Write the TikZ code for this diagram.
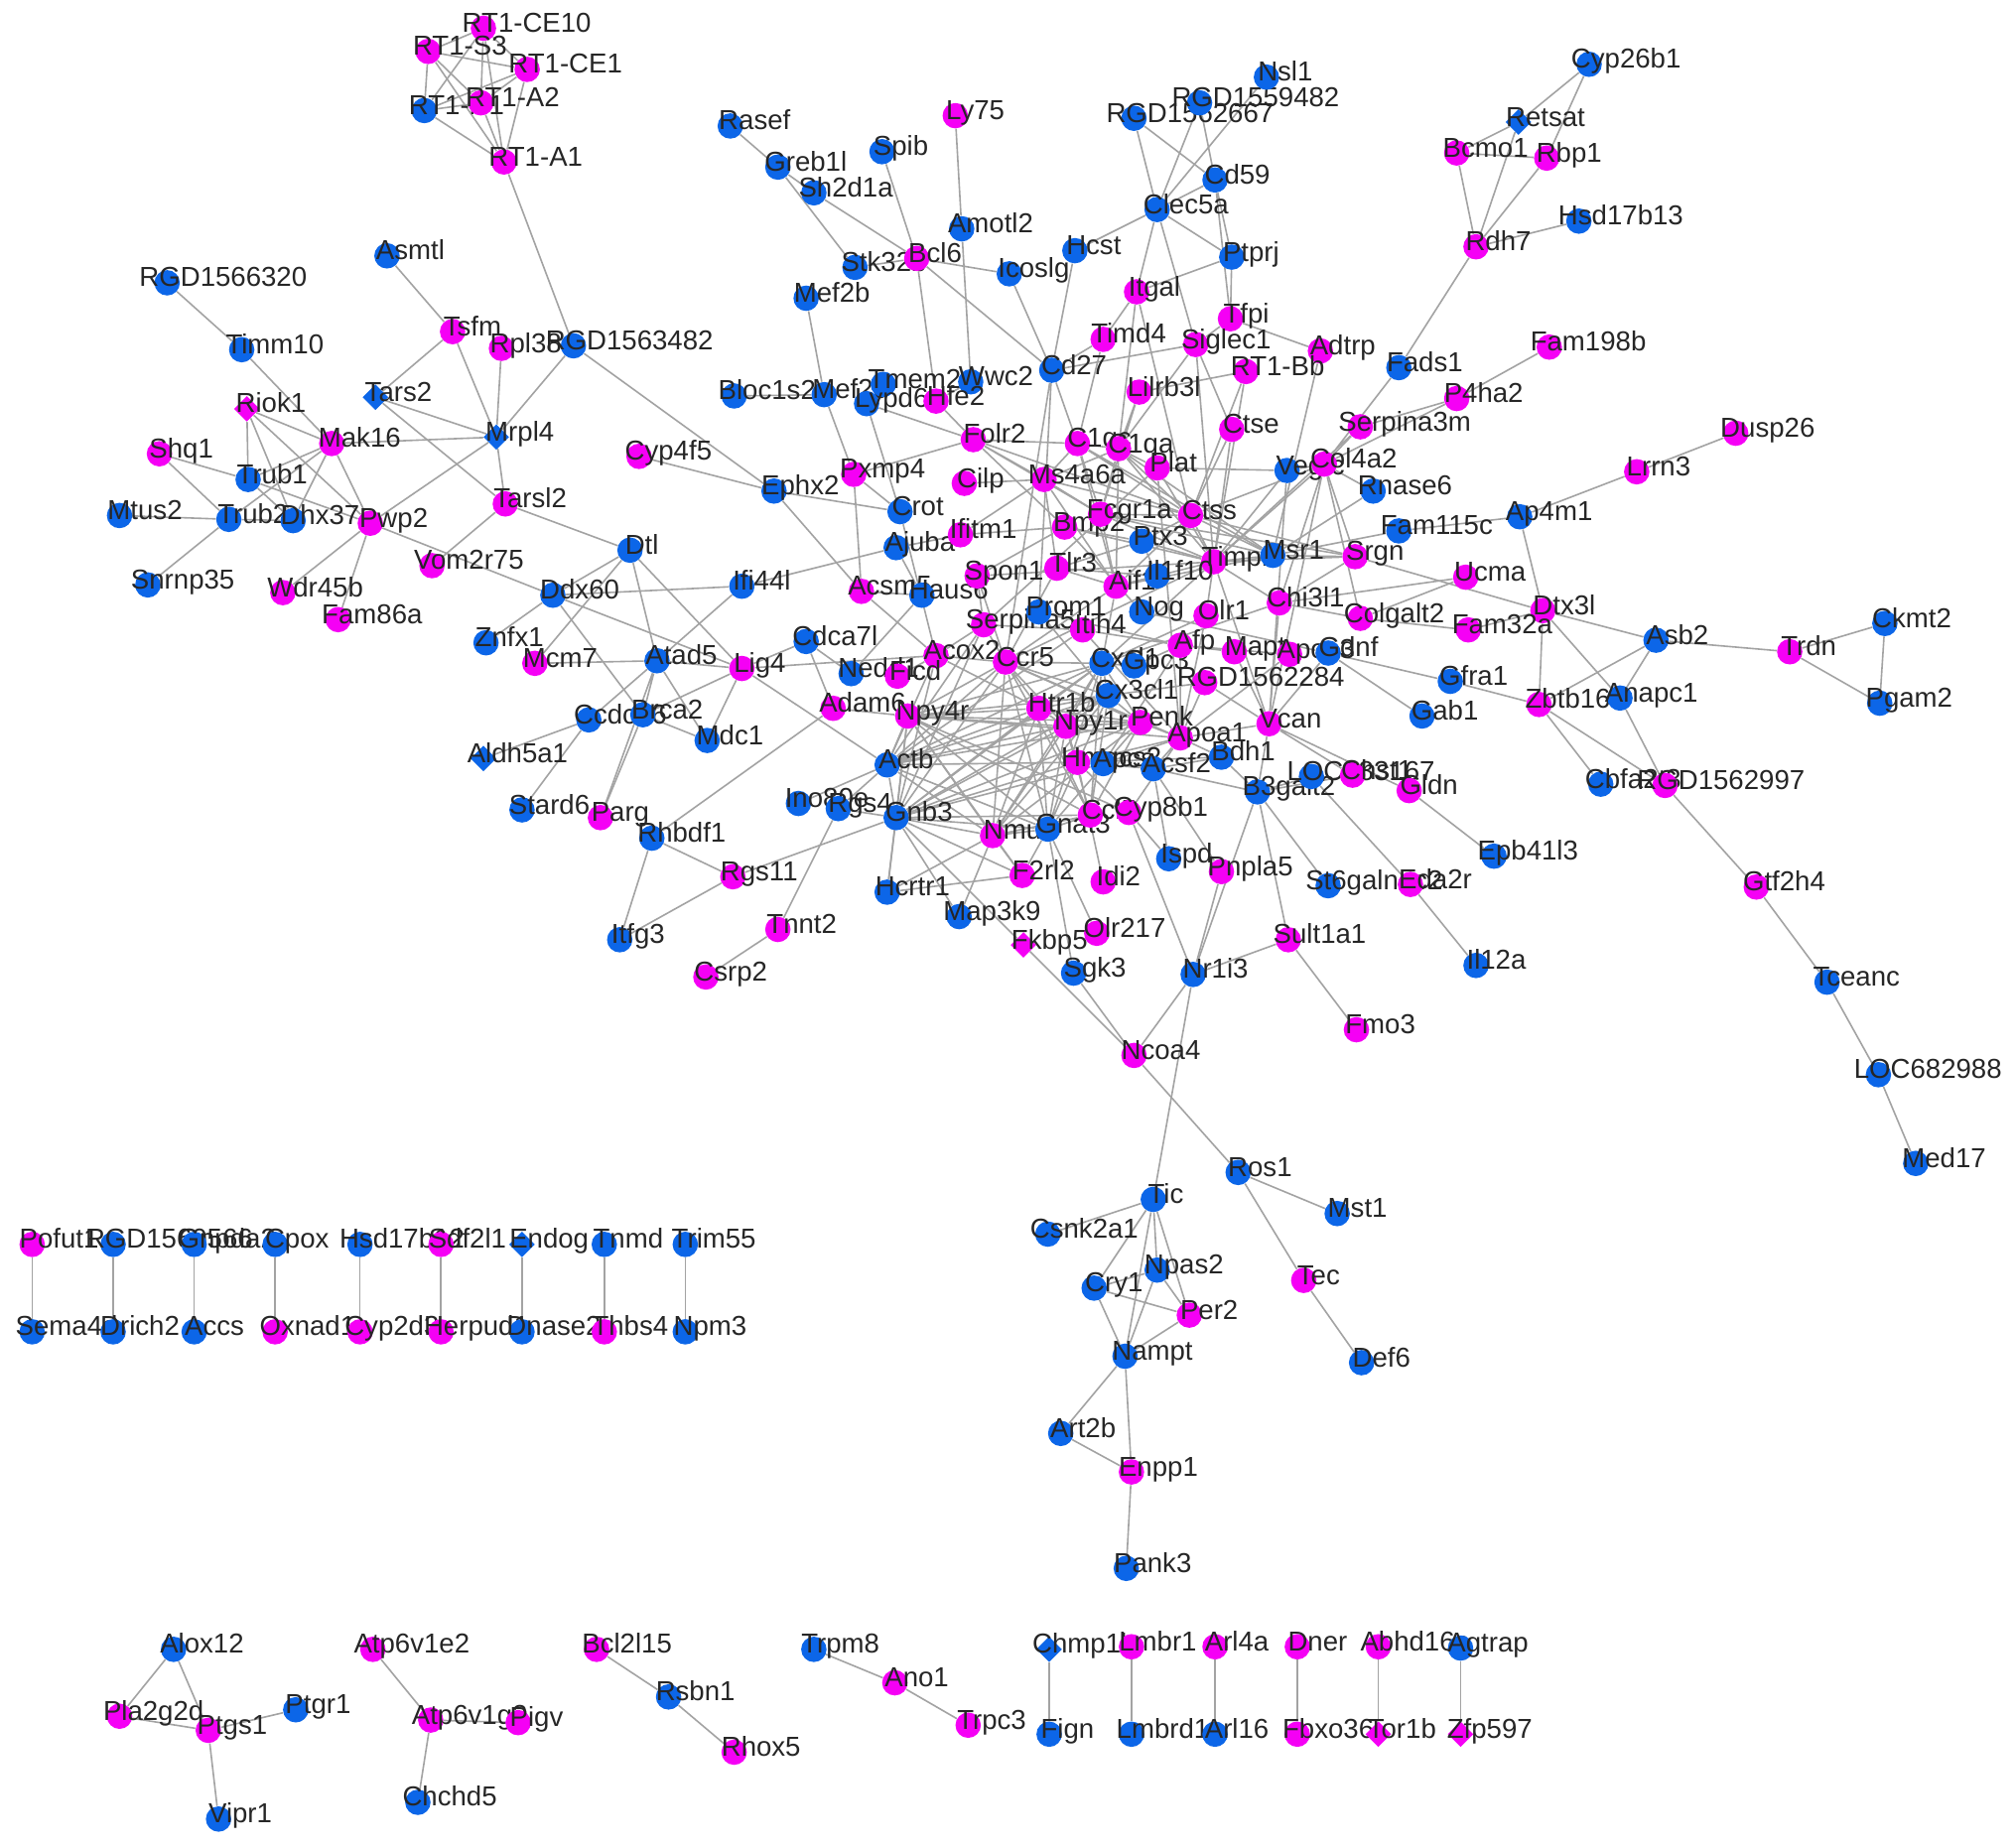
\documentclass[tikz,border=0pt]{standalone}
\usepackage{fontspec}
\setmainfont{Liberation Sans}
\usetikzlibrary{shapes.geometric}
\definecolor{geneblue}{RGB}{12,102,232}
\definecolor{genemag}{RGB}{245,0,245}
\pgfdeclarelayer{bg}
\pgfsetlayers{bg,main}
\tikzset{
  bn/.style={circle,fill=geneblue,inner sep=0pt,minimum size=12.8pt},
  mn/.style={circle,fill=genemag,inner sep=0pt,minimum size=12.8pt},
  bd/.style={diamond,fill=geneblue,inner sep=0pt,minimum size=13pt},
  md/.style={diamond,fill=genemag,inner sep=0pt,minimum size=13pt},
  lbl/.style={anchor=base west,yshift=-2pt,inner sep=0pt,
              font=\fontsize{13.8}{14}\selectfont,text=black!85},
  gene/.style={label={[lbl,xshift={-(6.4+0.235*width("#1"))*1pt}]right:#1}},
  edge/.style={draw=black!36,line width=0.8pt}
}

\begin{document}
\begin{tikzpicture}[x=0.6477pt,y=-0.6477pt]
\useasboundingbox (0,0) rectangle (1568,1437);
\begin{pgfonlayer}{bg}
\fill[white] (0,0) rectangle (1568,1437);
\end{pgfonlayer}

% RT1 cluster and upper left
\node[mn,gene=RT1-CE10] (RT1-CE10) at (376,22) {};
\node[mn,gene=RT1-S3] (RT1-S3) at (333,40) {};
\node[mn,gene=RT1-CE1] (RT1-CE1) at (410,54) {};
\node[bn,gene=RT1-N1] (RT1-N1) at (330,86) {};
\node[mn,gene=RT1-A2] (RT1-A2) at (374,80) {};
\node[mn,gene=RT1-A1] (RT1-A1) at (392,126) {};
\node[bn,gene=Asmtl] (Asmtl) at (301,199) {};
\node[bn,gene=RGD1566320] (RGD1566320) at (130,220) {};
\node[bn,gene=Timm10] (Timm10) at (188,272) {};
\node[mn,gene=Tsfm] (Tsfm) at (352,258) {};
\node[mn,gene=Rpl38] (Rpl38) at (390,271) {};
\node[bn,gene=RGD1563482] (RGD1563482) at (446,269) {};
\node[bd,gene=Tars2] (Tars2) at (292,309) {};
\node[md,gene=Riok1] (Riok1) at (192,318) {};
\node[mn,gene=Mak16] (Mak16) at (258,345) {};
\node[bd,gene=Mrpl4] (Mrpl4) at (386,340) {};
\node[mn,gene=Shq1] (Shq1) at (124,353) {};
\node[bn,gene=Trub1] (Trub1) at (193,373) {};
\node[bn,gene=Mtus2] (Mtus2) at (93,401) {};
\node[bn,gene=Trub2] (Trub2) at (178,404) {};
\node[bn,gene=Dhx37] (Dhx37) at (228,405) {};
\node[mn,gene=Pwp2] (Pwp2) at (288,407) {};
\node[mn,gene=Tarsl2] (Tarsl2) at (393,392) {};
\node[bn,gene=Snrnp35] (Snrnp35) at (115,455) {};
\node[mn,gene=Wdr45b] (Wdr45b) at (220,461) {};
\node[mn,gene=Fam86a] (Fam86a) at (263,482) {};
\node[mn,gene=Vom2r75] (Vom2r75) at (336,440) {};

% left middle
\node[bn,gene=Dtl] (Dtl) at (490,428) {};
\node[bn,gene=Ddx60] (Ddx60) at (430,463) {};
\node[bn,gene=Ifi44l] (Ifi44l) at (577,456) {};
\node[bn,gene=Znfx1] (Znfx1) at (378,500) {};
\node[mn,gene=Mcm7] (Mcm7) at (416,516) {};
\node[bn,gene=Atad5] (Atad5) at (511,514) {};
\node[mn,gene=Lig4] (Lig4) at (577,520) {};
\node[bn,gene=Cdca7l] (Cdca7l) at (627,499) {};
\node[bn,gene=Ccdc86] (Ccdc86) at (458,560) {};
\node[bn,gene=Brca2] (Brca2) at (500,556) {};
\node[bn,gene=Mdc1] (Mdc1) at (550,576) {};
\node[bd,gene=Aldh5a1] (Aldh5a1) at (376,590) {};
\node[bn,gene=Stard6] (Stard6) at (406,630) {};
\node[mn,gene=Parg] (Parg) at (467,636) {};
\node[bn,gene=Rhbdf1] (Rhbdf1) at (507,652) {};
\node[bn,gene=Itfg3] (Itfg3) at (482,731) {};
\node[mn,gene=Rgs11] (Rgs11) at (570,682) {};
\node[mn,gene=Tnnt2] (Tnnt2) at (605,723) {};
\node[mn,gene=Csrp2] (Csrp2) at (549,760) {};
\node[mn,gene=Cyp4f5] (Cyp4f5) at (497,355) {};
\node[bn,gene=Ephx2] (Ephx2) at (602,382) {};

% upper middle
\node[bn,gene=Rasef] (Rasef) at (568,98) {};
\node[bn,gene=Greb1l] (Greb1l) at (605,130) {};
\node[bn,gene=Spib] (Spib) at (686,118) {};
\node[bn,gene=Sh2d1a] (Sh2d1a) at (633,150) {};
\node[mn,gene=Ly75] (Ly75) at (743,90) {};
\node[bn,gene=Amotl2] (Amotl2) at (748,178) {};
\node[bn,gene=Stk32b] (Stk32b) at (665,208) {};
\node[mn,gene=Bcl6] (Bcl6) at (713,201) {};
\node[bn,gene=Mef2b] (Mef2b) at (627,232) {};
\node[bn,gene=Icoslg] (Icoslg) at (785,213) {};
\node[bn,gene=Hcst] (Hcst) at (836,195) {};
\node[bn,gene=RGD1562667] (RGD1562667) at (882,92) {};
\node[bn,gene=RGD1559482] (RGD1559482) at (933,80) {};
\node[bn,gene=Nsl1] (Nsl1) at (985,60) {};
\node[bn,gene=Cd59] (Cd59) at (945,140) {};
\node[bn,gene=Clec5a] (Clec5a) at (900,163) {};
\node[bn,gene=Ptprj] (Ptprj) at (958,200) {};
\node[mn,gene=Itgal] (Itgal) at (884,227) {};
\node[mn,gene=Tfpi] (Tfpi) at (957,248) {};
\node[mn,gene=Timd4] (Timd4) at (858,264) {};
\node[mn,gene=Siglec1] (Siglec1) at (930,268) {};
\node[mn,gene=Adtrp] (Adtrp) at (1027,273) {};
\node[mn,gene=RT1-Bb] (RT1-Bb) at (969,289) {};
\node[bn,gene=Cd27] (Cd27) at (818,288) {};
\node[mn,gene=Lilrb3l] (Lilrb3l) at (886,305) {};
\node[mn,gene=Ctse] (Ctse) at (958,334) {};
\node[bn,gene=Bloc1s2] (Bloc1s2) at (571,308) {};
\node[bn,gene=Mef2c] (Mef2c) at (641,307) {};
\node[bn,gene=Tmem2] (Tmem2) at (687,299) {};
\node[bn,gene=Wwc2] (Wwc2) at (755,297) {};
\node[bn,gene=Lypd6] (Lypd6) at (674,314) {};
\node[mn,gene=Hfe2] (Hfe2) at (728,312) {};
\node[mn,gene=Folr2] (Folr2) at (757,342) {};
\node[mn,gene=Pxmp4] (Pxmp4) at (664,369) {};
\node[mn,gene=Cilp] (Cilp) at (750,376) {};
\node[mn,gene=C1qc] (C1qc) at (838,345) {};
\node[mn,gene=C1qa] (C1qa) at (870,349) {};
\node[mn,gene=Ms4a6a] (Ms4a6a) at (812,373) {};
\node[mn,gene=Plat] (Plat) at (900,364) {};
\node[bn,gene=Crot] (Crot) at (700,398) {};
\node[bn,gene=Ajuba] (Ajuba) at (697,426) {};
\node[mn,gene=Ifitm1] (Ifitm1) at (747,416) {};
\node[mn,gene=Bmp2] (Bmp2) at (828,410) {};
\node[mn,gene=Fcgr1a] (Fcgr1a) at (856,400) {};
\node[mn,gene=Ctss] (Ctss) at (926,401) {};
\node[bn,gene=Ptx3] (Ptx3) at (888,421) {};
\node[mn,gene=Timp1] (Timp1) at (944,437) {};
\node[bn,gene=Msr1] (Msr1) at (990,432) {};
\node[mn,gene=Srgn] (Srgn) at (1054,433) {};

% centre
\node[mn,gene=Acsm5] (Acsm5) at (670,460) {};
\node[bn,gene=Haus6] (Haus6) at (717,463) {};
\node[mn,gene=Spon1] (Spon1) at (760,448) {};
\node[mn,gene=Tlr3] (Tlr3) at (822,442) {};
\node[mn,gene=Aif1] (Aif1) at (868,456) {};
\node[bn,gene=Il1f10] (Il1f10) at (900,448) {};
\node[mn,gene=Serpina5] (Serpina5) at (765,486) {};
\node[bn,gene=Prom1] (Prom1) at (808,476) {};
\node[mn,gene=Itih4] (Itih4) at (842,490) {};
\node[bn,gene=Nog] (Nog) at (888,476) {};
\node[mn,gene=Olr1] (Olr1) at (938,479) {};
\node[mn,gene=Chi3l1] (Chi3l1) at (995,469) {};
\node[mn,gene=Colgalt2] (Colgalt2) at (1058,481) {};
\node[mn,gene=Acox2] (Acox2) at (728,510) {};
\node[mn,gene=Ccr5] (Ccr5) at (782,515) {};
\node[bn,gene=Cxcl1] (Cxcl1) at (857,516) {};
\node[bn,gene=Gpc3] (Gpc3) at (882,518) {};
\node[mn,gene=Afp] (Afp) at (918,502) {};
\node[mn,gene=Mapt] (Mapt) at (960,507) {};
\node[mn,gene=Apoc3] (Apoc3) at (1003,509) {};
\node[bn,gene=Gdnf] (Gdnf) at (1033,508) {};
\node[mn,gene=RGD1562284] (RGD1562284) at (937,531) {};
\node[bn,gene=Cx3cl1] (Cx3cl1) at (862,541) {};
\node[bn,gene=Nedd1] (Nedd1) at (662,524) {};
\node[mn,gene=Ficd] (Ficd) at (698,526) {};
\node[mn,gene=Adam6] (Adam6) at (648,551) {};
\node[mn,gene=Npy4r] (Npy4r) at (706,557) {};
\node[mn,gene=Htr1b] (Htr1b) at (808,551) {};
\node[mn,gene=Npy1r] (Npy1r) at (829,565) {};
\node[mn,gene=Penk] (Penk) at (887,562) {};
\node[mn,gene=Apoa1] (Apoa1) at (918,574) {};
\node[mn,gene=Vcan] (Vcan) at (987,563) {};
\node[bn,gene=Actb] (Actb) at (690,595) {};
\node[mn,gene=Hmgcs2] (Hmgcs2) at (838,593) {};
\node[bn,gene=Apcs] (Apcs) at (858,594) {};
\node[bn,gene=Acsf2] (Acsf2) at (897,598) {};
\node[bn,gene=Bdh1] (Bdh1) at (950,589) {};
\node[bn,gene=B3galt2] (B3galt2) at (978,616) {};
\node[bn,gene=LOC683167] (LOC683167) at (1020,604) {};
\node[mn,gene=Chst1] (Chst1) at (1052,603) {};
\node[mn,gene=Gldn] (Gldn) at (1096,615) {};
\node[bn,gene=Ino80e] (Ino80e) at (621,625) {};
\node[bn,gene=Rgs4] (Rgs4) at (652,629) {};
\node[bn,gene=Gnb3] (Gnb3) at (697,636) {};
\node[mn,gene=Nmu] (Nmu) at (772,650) {};
\node[bn,gene=Gnat3] (Gnat3) at (815,645) {};
\node[mn,gene=Ccl5] (Ccl5) at (848,634) {};
\node[mn,gene=Cyp8b1] (Cyp8b1) at (878,632) {};
\node[bn,gene=Hcrtr1] (Hcrtr1) at (690,694) {};
\node[bn,gene=Map3k9] (Map3k9) at (746,713) {};
\node[mn,gene=F2rl2] (F2rl2) at (795,681) {};
\node[mn,gene=Idi2] (Idi2) at (858,686) {};
\node[md,gene=Fkbp5] (Fkbp5) at (796,735) {};
\node[mn,gene=Olr217] (Olr217) at (853,726) {};
\node[bn,gene=Sgk3] (Sgk3) at (835,757) {};
\node[bn,gene=Ispd] (Ispd) at (909,668) {};
\node[mn,gene=Pnpla5] (Pnpla5) at (950,678) {};
\node[bn,gene=St6galnac2] (St6galnac2) at (1033,689) {};
\node[mn,gene=Eda2r] (Eda2r) at (1097,688) {};
\node[bn,gene=Epb41l3] (Epb41l3) at (1162,666) {};
\node[bn,gene=Il12a] (Il12a) at (1148,751) {};
\node[bn,gene=Nr1i3] (Nr1i3) at (928,758) {};
\node[mn,gene=Sult1a1] (Sult1a1) at (1002,731) {};
\node[mn,gene=Fmo3] (Fmo3) at (1055,801) {};
\node[mn,gene=Ncoa4] (Ncoa4) at (882,821) {};

% right
\node[bn,gene=Cyp26b1] (Cyp26b1) at (1236,50) {};
\node[bd,gene=Retsat] (Retsat) at (1181,95) {};
\node[mn,gene=Bcmo1] (Bcmo1) at (1133,119) {};
\node[mn,gene=Rbp1] (Rbp1) at (1203,123) {};
\node[mn,gene=Rdh7] (Rdh7) at (1148,192) {};
\node[bn,gene=Hsd17b13] (Hsd17b13) at (1228,172) {};
\node[bn,gene=Fads1] (Fads1) at (1088,286) {};
\node[mn,gene=Fam198b] (Fam198b) at (1205,270) {};
\node[mn,gene=P4ha2] (P4ha2) at (1133,310) {};
\node[mn,gene=Serpina3m] (Serpina3m) at (1058,332) {};
\node[bn,gene=Vegfc] (Vegfc) at (1001,366) {};
\node[mn,gene=Col4a2] (Col4a2) at (1030,361) {};
\node[bn,gene=Rnase6] (Rnase6) at (1068,382) {};
\node[mn,gene=Dusp26] (Dusp26) at (1350,337) {};
\node[mn,gene=Lrrn3] (Lrrn3) at (1273,367) {};
\node[bn,gene=Ap4m1] (Ap4m1) at (1182,402) {};
\node[bn,gene=Fam115c] (Fam115c) at (1088,413) {};
\node[mn,gene=Ucma] (Ucma) at (1140,449) {};
\node[mn,gene=Dtx3l] (Dtx3l) at (1200,475) {};
\node[mn,gene=Fam32a] (Fam32a) at (1142,490) {};
\node[bn,gene=Gfra1] (Gfra1) at (1128,530) {};
\node[bn,gene=Gab1] (Gab1) at (1106,557) {};
\node[bn,gene=Asb2] (Asb2) at (1288,498) {};
\node[mn,gene=Trdn] (Trdn) at (1392,507) {};
\node[bn,gene=Ckmt2] (Ckmt2) at (1466,485) {};
\node[bn,gene=Pgam2] (Pgam2) at (1462,547) {};
\node[mn,gene=Zbtb16] (Zbtb16) at (1197,548) {};
\node[bn,gene=Anapc1] (Anapc1) at (1260,543) {};
\node[bn,gene=Cbfa2t3] (Cbfa2t3) at (1245,610) {};
\node[mn,gene=RGD1562997] (RGD1562997) at (1295,611) {};
\node[mn,gene=Gtf2h4] (Gtf2h4) at (1366,690) {};
\node[bn,gene=Tceanc] (Tceanc) at (1421,764) {};
\node[bn,gene=LOC682988] (LOC682988) at (1461,836) {};
\node[bn,gene=Med17] (Med17) at (1490,905) {};

% lower cluster
\node[bn,gene=Tic] (Tic) at (897,933) {};
\node[bn,gene=Ros1] (Ros1) at (963,912) {};
\node[bn,gene=Mst1] (Mst1) at (1040,944) {};
\node[bn,gene=Csnk2a1] (Csnk2a1) at (815,960) {};
\node[bn,gene=Npas2] (Npas2) at (900,988) {};
\node[bn,gene=Cry1] (Cry1) at (851,1002) {};
\node[mn,gene=Per2] (Per2) at (925,1023) {};
\node[mn,gene=Tec] (Tec) at (1014,996) {};
\node[bn,gene=Nampt] (Nampt) at (875,1055) {};
\node[bn,gene=Def6] (Def6) at (1059,1060) {};
\node[bn,gene=Art2b] (Art2b) at (825,1115) {};
\node[mn,gene=Enpp1] (Enpp1) at (880,1145) {};
\node[bn,gene=Pank3] (Pank3) at (876,1220) {};

% pairs row
\node[mn,gene=Pofut1] (Pofut1) at (25,968) {};
\node[bn,gene=RGD1560566] (RGD1560566) at (88,968) {};
\node[bn,gene=Gnpda2] (Gnpda2) at (151,968) {};
\node[bn,gene=Cpox] (Cpox) at (214,968) {};
\node[bn,gene=Hsd17b12] (Hsd17b12) at (280,968) {};
\node[mn,gene=Sdf2l1] (Sdf2l1) at (343,968) {};
\node[bd,gene=Endog] (Endog) at (406,968) {};
\node[bn,gene=Tnmd] (Tnmd) at (470,968) {};
\node[bn,gene=Trim55] (Trim55) at (533,968) {};
\node[bn,gene=Sema4d] (Sema4d) at (25,1036) {};
\node[bn,gene=Drich2] (Drich2) at (88,1036) {};
\node[bn,gene=Accs] (Accs) at (151,1036) {};
\node[mn,gene=Oxnad1] (Oxnad1) at (214,1036) {};
\node[mn,gene=Cyp2d3] (Cyp2d3) at (280,1036) {};
\node[mn,gene=Herpud1] (Herpud1) at (343,1036) {};
\node[bn,gene=Dnase2] (Dnase2) at (406,1036) {};
\node[mn,gene=Thbs4] (Thbs4) at (470,1036) {};
\node[bn,gene=Npm3] (Npm3) at (533,1036) {};

% bottom groups
\node[bn,gene=Alox12] (Alox12) at (135,1283) {};
\node[mn,gene=Pla2g2d] (Pla2g2d) at (93,1335) {};
\node[mn,gene=Ptgs1] (Ptgs1) at (162,1346) {};
\node[bn,gene=Ptgr1] (Ptgr1) at (230,1330) {};
\node[bn,gene=Vipr1] (Vipr1) at (170,1415) {};
\node[mn,gene=Atp6v1e2] (Atp6v1e2) at (290,1283) {};
\node[mn,gene=Atp6v1g3] (Atp6v1g3) at (335,1338) {};
\node[mn,gene=Pigv] (Pigv) at (403,1340) {};
\node[bn,gene=Chchd5] (Chchd5) at (325,1402) {};
\node[mn,gene=Bcl2l15] (Bcl2l15) at (464,1283) {};
\node[bn,gene=Rsbn1] (Rsbn1) at (520,1320) {};
\node[mn,gene=Rhox5] (Rhox5) at (571,1363) {};
\node[bn,gene=Trpm8] (Trpm8) at (633,1283) {};
\node[mn,gene=Ano1] (Ano1) at (696,1309) {};
\node[mn,gene=Trpc3] (Trpc3) at (753,1342) {};
\node[bd,gene=Chmp1b] (Chmp1b) at (816,1283) {};
\node[bn,gene=Fign] (Fign) at (816,1349) {};
\node[mn,gene=Lmbr1] (Lmbr1) at (880,1281) {};
\node[bn,gene=Lmbrd1] (Lmbrd1) at (880,1349) {};
\node[mn,gene=Arl4a] (Arl4a) at (945,1281) {};
\node[bn,gene=Arl16] (Arl16) at (945,1349) {};
\node[mn,gene=Dner] (Dner) at (1009,1281) {};
\node[mn,gene=Fbxo36] (Fbxo36) at (1009,1349) {};
\node[mn,gene=Abhd16a] (Abhd16a) at (1072,1281) {};
\node[md,gene=Tor1b] (Tor1b) at (1072,1349) {};
\node[bn,gene=Agtrap] (Agtrap) at (1136,1282) {};
\node[md,gene=Zfp597] (Zfp597) at (1136,1349) {};

\begin{pgfonlayer}{bg}
% RT1 and upper left
\draw[edge] (RT1-CE10) -- (RT1-S3) (RT1-CE10) -- (RT1-CE1) (RT1-CE10) -- (RT1-A2) (RT1-CE10) -- (RT1-N1) (RT1-CE10) -- (RT1-A1);
\draw[edge] (RT1-S3) -- (RT1-CE1) (RT1-S3) -- (RT1-A2) (RT1-S3) -- (RT1-N1) (RT1-S3) -- (RT1-A1);
\draw[edge] (RT1-CE1) -- (RT1-A2) (RT1-CE1) -- (RT1-N1) (RT1-CE1) -- (RT1-A1);
\draw[edge] (RT1-A2) -- (RT1-N1) (RT1-A2) -- (RT1-A1) (RT1-N1) -- (RT1-A1);
\draw[edge] (RT1-A1) -- (RGD1563482);
\draw[edge] (Asmtl) -- (Tsfm) (RGD1566320) -- (Timm10) (Timm10) -- (Mak16);
\draw[edge] (Tsfm) -- (Tars2) (Tsfm) -- (Mrpl4) (Rpl38) -- (Mrpl4);
\draw[edge] (RGD1563482) -- (Mrpl4) (RGD1563482) -- (Ephx2);
\draw[edge] (Tars2) -- (Mrpl4) (Tars2) -- (Tarsl2);
\draw[edge] (Riok1) -- (Mak16) (Riok1) -- (Trub1) (Riok1) -- (Dhx37) (Riok1) -- (Pwp2);
\draw[edge] (Mak16) -- (Mrpl4) (Mak16) -- (Trub1) (Mak16) -- (Dhx37) (Mak16) -- (Pwp2) (Mak16) -- (Trub2);
\draw[edge] (Shq1) -- (Trub1) (Shq1) -- (Trub2) (Mtus2) -- (Trub2) (Trub2) -- (Dhx37);
\draw[edge] (Trub1) -- (Dhx37) (Trub1) -- (Pwp2) (Trub2) -- (Snrnp35);
\draw[edge] (Pwp2) -- (Wdr45b) (Pwp2) -- (Fam86a) (Pwp2) -- (Mrpl4) (Pwp2) -- (Ddx60);
\draw[edge] (Mrpl4) -- (Tarsl2) (Tarsl2) -- (Dtl) (Tarsl2) -- (Vom2r75);
% left middle
\draw[edge] (Dtl) -- (Ddx60) (Dtl) -- (Atad5) (Dtl) -- (Lig4) (Dtl) -- (Mcm7);
\draw[edge] (Ddx60) -- (Ifi44l) (Ddx60) -- (Znfx1) (Ddx60) -- (Brca2) (Ddx60) -- (Lig4);
\draw[edge] (Ifi44l) -- (Atad5) (Ifi44l) -- (Ajuba) (Mcm7) -- (Atad5);
\draw[edge] (Atad5) -- (Lig4) (Atad5) -- (Ccdc86) (Atad5) -- (Brca2) (Atad5) -- (Mdc1) (Atad5) -- (Parg);
\draw[edge] (Lig4) -- (Brca2) (Lig4) -- (Mdc1) (Lig4) -- (Actb) (Lig4) -- (Cdca7l) (Lig4) -- (Acox2);
\draw[edge] (Ccdc86) -- (Aldh5a1) (Ccdc86) -- (Stard6) (Brca2) -- (Mdc1) (Brca2) -- (Parg);
\draw[edge] (Rhbdf1) -- (Adam6) (Rhbdf1) -- (Rgs11) (Rhbdf1) -- (Itfg3) (Itfg3) -- (Rgs11) (Rgs11) -- (Gnb3);
\draw[edge] (Tnnt2) -- (Csrp2) (Tnnt2) -- (Rgs4) (Ino80e) -- (Actb) (Rgs4) -- (Actb);
\draw[edge] (Cdca7l) -- (Adam6) (Adam6) -- (Npy4r) (Nedd1) -- (Cdca7l) (Nedd1) -- (Haus6) (Ficd) -- (Acox2);
\draw[edge] (Cyp4f5) -- (Ephx2) (Ephx2) -- (Crot) (Ephx2) -- (Acsm5);
% upper middle
\draw[edge] (Rasef) -- (Greb1l) (Greb1l) -- (Sh2d1a) (Greb1l) -- (Stk32b) (Sh2d1a) -- (Bcl6) (Spib) -- (Bcl6);
\draw[edge] (Ly75) -- (Amotl2) (Amotl2) -- (Wwc2) (Stk32b) -- (Bcl6);
\draw[edge] (Bcl6) -- (Icoslg) (Bcl6) -- (Cd27) (Bcl6) -- (Hfe2) (Mef2b) -- (Mef2c) (Icoslg) -- (Cd27);
\draw[edge] (Hcst) -- (Cd27) (Hcst) -- (Clec5a);
\draw[edge] (Clec5a) -- (RGD1562667) (Clec5a) -- (RGD1559482) (Clec5a) -- (Cd59) (Clec5a) -- (Ptprj) (Clec5a) -- (Itgal) (Clec5a) -- (Siglec1) (Clec5a) -- (Nsl1);
\draw[edge] (RGD1562667) -- (Cd59) (RGD1559482) -- (Cd59) (Cd59) -- (Ptprj) (Cd59) -- (Tfpi) (Ptprj) -- (Tfpi) (Ptprj) -- (Itgal);
\draw[edge] (Itgal) -- (Timd4) (Itgal) -- (Ctss) (Itgal) -- (C1qa) (Tfpi) -- (Adtrp) (Tfpi) -- (Siglec1);
\draw[edge] (Siglec1) -- (Cd27) (Siglec1) -- (Ctse) (Siglec1) -- (Timp1) (Siglec1) -- (C1qa);
\draw[edge] (Timd4) -- (Cd27) (Timd4) -- (C1qc) (RT1-Bb) -- (Ctss) (RT1-Bb) -- (Timp1) (RT1-Bb) -- (Lilrb3l);
\draw[edge] (Adtrp) -- (Msr1) (Lilrb3l) -- (C1qa) (Lilrb3l) -- (Fcgr1a) (Ctse) -- (Ctss) (Ctse) -- (Timp1);
\draw[edge] (Hfe2) -- (Folr2) (Lypd6) -- (Crot) (Lypd6) -- (Folr2) (Tmem2) -- (Lypd6) (Wwc2) -- (Hfe2);
\draw[edge] (Mef2c) -- (Pxmp4) (Bloc1s2) -- (Mef2c) (Cd27) -- (Ccr5) (Cd27) -- (C1qc) (Cd27) -- (Prom1);
\draw[edge] (Pxmp4) -- (Acsm5) (Pxmp4) -- (Crot) (Pxmp4) -- (Folr2);
\draw[edge] (Folr2) -- (C1qc) (Folr2) -- (Ms4a6a) (Folr2) -- (Fcgr1a) (Folr2) -- (Ctss) (Folr2) -- (Bmp2);
% immune group
\draw[edge] (C1qc) -- (C1qa) (C1qc) -- (Ms4a6a) (C1qc) -- (Fcgr1a) (C1qc) -- (Ctss) (C1qc) -- (Aif1) (C1qc) -- (Msr1);
\draw[edge] (C1qa) -- (Ms4a6a) (C1qa) -- (Fcgr1a) (C1qa) -- (Ctss) (C1qa) -- (Aif1) (C1qa) -- (Plat) (C1qa) -- (Msr1) (C1qa) -- (Timp1);
\draw[edge] (Ms4a6a) -- (Fcgr1a) (Ms4a6a) -- (Ctss) (Ms4a6a) -- (Aif1) (Ms4a6a) -- (Cilp) (Ms4a6a) -- (Ifitm1) (Ms4a6a) -- (Tlr3);
\draw[edge] (Fcgr1a) -- (Ctss) (Fcgr1a) -- (Aif1) (Fcgr1a) -- (Msr1) (Fcgr1a) -- (Srgn) (Fcgr1a) -- (Timp1);
\draw[edge] (Ctss) -- (Aif1) (Ctss) -- (Msr1) (Ctss) -- (Timp1) (Ctss) -- (Srgn) (Ctss) -- (Col4a2) (Ctss) -- (Ptx3);
\draw[edge] (Aif1) -- (Tlr3) (Aif1) -- (Msr1) (Aif1) -- (Timp1) (Aif1) -- (Ccr5) (Aif1) -- (Cxcl1);
\draw[edge] (Timp1) -- (Msr1) (Timp1) -- (Ptx3) (Timp1) -- (Col4a2) (Timp1) -- (Srgn) (Timp1) -- (Chi3l1) (Timp1) -- (Vegfc);
\draw[edge] (Timp1) -- (Spon1) (Timp1) -- (Bmp2) (Timp1) -- (Plat) (Timp1) -- (Vcan) (Timp1) -- (Cxcl1) (Timp1) -- (Olr1) (Timp1) -- (Ccr5);
\draw[edge] (Msr1) -- (Srgn) (Msr1) -- (Rnase6) (Msr1) -- (Fam115c) (Srgn) -- (Col4a2) (Srgn) -- (Dtx3l) (Srgn) -- (Chi3l1);
\draw[edge] (Chi3l1) -- (Col4a2) (Chi3l1) -- (Cxcl1) (Col4a2) -- (Vegfc) (Col4a2) -- (Serpina3m) (Col4a2) -- (P4ha2) (Col4a2) -- (Vcan) (Col4a2) -- (Colgalt2);
\draw[edge] (Vegfc) -- (Plat) (Vegfc) -- (Vcan) (Plat) -- (Serpina5) (Plat) -- (Apoa1);
\draw[edge] (Bmp2) -- (Nog) (Bmp2) -- (Ptx3) (Bmp2) -- (Spon1) (Bmp2) -- (Ifitm1) (Ptx3) -- (Tlr3) (Ptx3) -- (Il1f10) (Tlr3) -- (Il1f10);
\draw[edge] (Ajuba) -- (Ifitm1) (Ajuba) -- (Haus6) (Crot) -- (Acox2) (Acsm5) -- (Acox2) (Acsm5) -- (Haus6);
\draw[edge] (Serpina3m) -- (P4ha2) (Serpina3m) -- (Timp1) (Fam198b) -- (P4ha2) (Fads1) -- (Rdh7) (Fads1) -- (Col4a2) (Rnase6) -- (Col4a2);
% right
\draw[edge] (Fam115c) -- (Ap4m1) (Ucma) -- (Colgalt2) (Ucma) -- (Chi3l1);
\draw[edge] (Dtx3l) -- (Ap4m1) (Dtx3l) -- (Asb2) (Dtx3l) -- (Zbtb16) (Dtx3l) -- (Anapc1) (Dtx3l) -- (Fam32a);
\draw[edge] (Fam32a) -- (Colgalt2) (Colgalt2) -- (Chi3l1) (Gdnf) -- (Gfra1) (Gfra1) -- (Zbtb16) (Gab1) -- (Gdnf);
\draw[edge] (Asb2) -- (Trdn) (Asb2) -- (Zbtb16) (Asb2) -- (Anapc1) (Trdn) -- (Ckmt2) (Trdn) -- (Pgam2) (Ckmt2) -- (Pgam2);
\draw[edge] (Zbtb16) -- (Cbfa2t3) (Zbtb16) -- (RGD1562997) (Anapc1) -- (RGD1562997);
\draw[edge] (RGD1562997) -- (Gtf2h4) (Gtf2h4) -- (Tceanc) (Tceanc) -- (LOC682988) (LOC682988) -- (Med17);
\draw[edge] (Dusp26) -- (Lrrn3) (Lrrn3) -- (Ap4m1);
\draw[edge] (Cyp26b1) -- (Retsat) (Cyp26b1) -- (Rbp1) (Retsat) -- (Bcmo1) (Retsat) -- (Rdh7);
\draw[edge] (Bcmo1) -- (Rbp1) (Bcmo1) -- (Rdh7) (Rbp1) -- (Rdh7) (Rdh7) -- (Hsd17b13);
% metabolic group
\draw[edge] (Apoa1) -- (Afp) (Apoa1) -- (Hmgcs2) (Apoa1) -- (Acsf2) (Apoa1) -- (Bdh1) (Apoa1) -- (Cyp8b1) (Apoa1) -- (Apoc3);
\draw[edge] (Apoa1) -- (RGD1562284) (Apoa1) -- (Apcs) (Apoa1) -- (Itih4) (Apoa1) -- (Vcan) (Apoa1) -- (Olr1);
\draw[edge] (Afp) -- (Apcs) (Afp) -- (Itih4) (Afp) -- (Apoc3) (Afp) -- (Mapt) (Afp) -- (Gpc3) (Afp) -- (Prom1);
\draw[edge] (Hmgcs2) -- (Acsf2) (Hmgcs2) -- (Bdh1) (Hmgcs2) -- (Cyp8b1) (Hmgcs2) -- (Idi2);
\draw[edge] (Acsf2) -- (Bdh1) (Acsf2) -- (Ispd) (Acsf2) -- (Pnpla5) (Acsf2) -- (B3galt2) (Bdh1) -- (B3galt2);
\draw[edge] (B3galt2) -- (Nr1i3) (B3galt2) -- (Sult1a1) (B3galt2) -- (St6galnac2) (B3galt2) -- (LOC683167) (B3galt2) -- (Chst1) (B3galt2) -- (Vcan);
\draw[edge] (Vcan) -- (Chst1) (Vcan) -- (Gldn) (Vcan) -- (Chi3l1) (Vcan) -- (Gdnf) (Vcan) -- (RGD1562284) (Vcan) -- (Mapt);
\draw[edge] (Cyp8b1) -- (Nr1i3) (Cyp8b1) -- (Ispd) (LOC683167) -- (Eda2r) (Gldn) -- (Epb41l3) (Eda2r) -- (Il12a);
\draw[edge] (Pnpla5) -- (Nr1i3) (Nr1i3) -- (Sult1a1) (Nr1i3) -- (Ncoa4) (Nr1i3) -- (Tic) (Sult1a1) -- (Fmo3);
\draw[edge] (Ncoa4) -- (Ros1) (Ncoa4) -- (Sgk3) (Ncoa4) -- (Fkbp5) (Sgk3) -- (Gnat3) (Olr217) -- (Gnat3);
\draw[edge] (Gpc3) -- (Cxcl1) (Prom1) -- (Cx3cl1) (Il1f10) -- (Aif1) (Nog) -- (Gdnf) (Olr1) -- (Cxcl1) (Itih4) -- (Serpina5);
% receptor hub
\draw[edge] (Gnb3) -- (Npy4r) (Gnb3) -- (Ccr5) (Gnb3) -- (Htr1b) (Gnb3) -- (Npy1r) (Gnb3) -- (Penk) (Gnb3) -- (Nmu) (Gnb3) -- (Cxcl1);
\draw[edge] (Gnb3) -- (Cx3cl1) (Gnb3) -- (Ccl5) (Gnb3) -- (F2rl2) (Gnb3) -- (Hcrtr1) (Gnb3) -- (Map3k9) (Gnb3) -- (Rgs4) (Gnb3) -- (Actb);
\draw[edge] (Gnb3) -- (Gnat3) (Gnb3) -- (Fkbp5) (Gnb3) -- (Serpina5) (Gnb3) -- (Acox2) (Gnb3) -- (Apcs) (Gnb3) -- (Hmgcs2);
\draw[edge] (Npy4r) -- (Ccr5) (Npy4r) -- (Htr1b) (Npy4r) -- (Npy1r) (Npy4r) -- (Penk) (Npy4r) -- (Nmu) (Npy4r) -- (Cxcl1) (Npy4r) -- (Cx3cl1);
\draw[edge] (Npy4r) -- (Ccl5) (Npy4r) -- (F2rl2) (Npy4r) -- (Gnat3) (Npy4r) -- (Actb) (Npy4r) -- (Hcrtr1) (Npy4r) -- (Apoa1) (Npy4r) -- (Cyp8b1);
\draw[edge] (Actb) -- (Ccr5) (Actb) -- (Htr1b) (Actb) -- (Npy1r) (Actb) -- (Cxcl1) (Actb) -- (Cx3cl1) (Actb) -- (Penk) (Actb) -- (Nmu);
\draw[edge] (Actb) -- (Gnat3) (Actb) -- (Acox2) (Actb) -- (Hmgcs2) (Actb) -- (Itih4) (Actb) -- (Serpina5);
\draw[edge] (Ccr5) -- (Htr1b) (Ccr5) -- (Npy1r) (Ccr5) -- (Penk) (Ccr5) -- (Cxcl1) (Ccr5) -- (Cx3cl1) (Ccr5) -- (Ccl5) (Ccr5) -- (Nmu);
\draw[edge] (Ccr5) -- (Gnat3) (Ccr5) -- (Acox2) (Ccr5) -- (Serpina5) (Ccr5) -- (Spon1) (Ccr5) -- (Apoa1) (Ccr5) -- (Tlr3);
\draw[edge] (Htr1b) -- (Npy1r) (Htr1b) -- (Penk) (Htr1b) -- (Cxcl1) (Htr1b) -- (Cx3cl1) (Htr1b) -- (Nmu) (Htr1b) -- (Gnat3) (Htr1b) -- (Ccl5);
\draw[edge] (Npy1r) -- (Penk) (Npy1r) -- (Cxcl1) (Npy1r) -- (Cx3cl1) (Npy1r) -- (Nmu) (Npy1r) -- (Gnat3) (Npy1r) -- (Ccl5) (Npy1r) -- (Hmgcs2);
\draw[edge] (Penk) -- (Cxcl1) (Penk) -- (Cx3cl1) (Penk) -- (Nmu) (Penk) -- (Gnat3) (Penk) -- (Ccl5) (Penk) -- (Apoa1);
\draw[edge] (Cxcl1) -- (Cx3cl1) (Cxcl1) -- (Ccl5) (Cxcl1) -- (Nmu) (Cxcl1) -- (Gnat3) (Cx3cl1) -- (Ccl5) (Cx3cl1) -- (Nmu) (Cx3cl1) -- (Gnat3) (Cx3cl1) -- (RGD1562284);
\draw[edge] (Nmu) -- (Gnat3) (Nmu) -- (F2rl2) (Nmu) -- (Hcrtr1) (Nmu) -- (Ccl5) (Nmu) -- (Map3k9) (Gnat3) -- (F2rl2) (Gnat3) -- (Ccl5);
\draw[edge] (Hcrtr1) -- (F2rl2) (Spon1) -- (Serpina5) (Acox2) -- (Serpina5) (Acox2) -- (Htr1b);
% lower cluster
\draw[edge] (Tic) -- (Csnk2a1) (Tic) -- (Cry1) (Tic) -- (Npas2) (Tic) -- (Per2) (Tic) -- (Nampt);
\draw[edge] (Cry1) -- (Npas2) (Cry1) -- (Per2) (Cry1) -- (Nampt) (Npas2) -- (Per2) (Npas2) -- (Nampt) (Per2) -- (Nampt);
\draw[edge] (Nampt) -- (Art2b) (Nampt) -- (Enpp1) (Art2b) -- (Enpp1) (Enpp1) -- (Pank3);
\draw[edge] (Ros1) -- (Mst1) (Ros1) -- (Tec) (Tec) -- (Def6);
% pairs and small groups
\draw[edge] (Pofut1) -- (Sema4d) (RGD1560566) -- (Drich2) (Gnpda2) -- (Accs) (Cpox) -- (Oxnad1) (Hsd17b12) -- (Cyp2d3);
\draw[edge] (Sdf2l1) -- (Herpud1) (Endog) -- (Dnase2) (Tnmd) -- (Thbs4) (Trim55) -- (Npm3);
\draw[edge] (Alox12) -- (Pla2g2d) (Alox12) -- (Ptgs1) (Pla2g2d) -- (Ptgs1) (Ptgs1) -- (Ptgr1) (Ptgs1) -- (Vipr1);
\draw[edge] (Atp6v1e2) -- (Atp6v1g3) (Atp6v1g3) -- (Pigv) (Atp6v1g3) -- (Chchd5);
\draw[edge] (Bcl2l15) -- (Rsbn1) (Rsbn1) -- (Rhox5) (Trpm8) -- (Ano1) (Ano1) -- (Trpc3);
\draw[edge] (Chmp1b) -- (Fign) (Lmbr1) -- (Lmbrd1) (Arl4a) -- (Arl16) (Dner) -- (Fbxo36) (Abhd16a) -- (Tor1b) (Agtrap) -- (Zfp597);
\end{pgfonlayer}
\end{tikzpicture}
\end{document}
